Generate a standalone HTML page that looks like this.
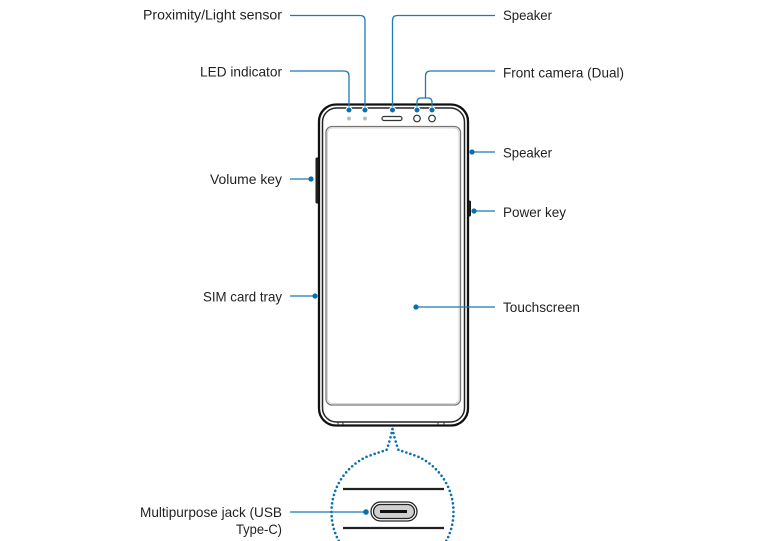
<!DOCTYPE html>
<html><head><meta charset="utf-8"><style>
html,body{margin:0;padding:0;background:#fff;}
svg{display:block;}
text{font-family:"Liberation Sans",sans-serif;font-size:14px;fill:#231f20;}
</style></head><body>
<svg width="783" height="541" viewBox="0 0 783 541" xmlns="http://www.w3.org/2000/svg">
<!-- phone body -->
<rect x="316" y="158" width="3.5" height="45" rx="1" fill="#222" stroke="#1a1a1a" stroke-width="1"/>
<rect x="467" y="201" width="3.5" height="15" rx="1" fill="#222" stroke="#1a1a1a" stroke-width="1"/>
<rect x="319" y="104.5" width="149" height="321" rx="17" fill="#fff" stroke="#111" stroke-width="2.3"/>
<rect x="322.5" y="108" width="142" height="314" rx="14" fill="none" stroke="#222" stroke-width="1.5"/>
<rect x="326" y="126.5" width="134.5" height="278.5" rx="6" fill="none" stroke="#777" stroke-width="1.3"/>
<rect x="327.5" y="128" width="131.5" height="275.5" rx="5" fill="none" stroke="#ccc" stroke-width="0.8"/>
<!-- bottom ticks -->
<line x1="338" y1="422" x2="338" y2="425" stroke="#333" stroke-width="1"/>
<line x1="343" y1="422" x2="343" y2="425" stroke="#333" stroke-width="1"/>
<line x1="438" y1="422" x2="438" y2="425" stroke="#333" stroke-width="1"/>
<line x1="444" y1="422" x2="444" y2="425" stroke="#333" stroke-width="1"/>
<!-- top features -->
<circle cx="349" cy="118.5" r="2" fill="#bbb"/>
<circle cx="365" cy="118.5" r="2" fill="#bbb"/>
<rect x="382" y="116.5" width="20" height="4" rx="2" fill="#fff" stroke="#333" stroke-width="1.2"/>
<circle cx="417" cy="118.5" r="3.3" fill="#fff" stroke="#333" stroke-width="1.2"/>
<circle cx="432" cy="118.5" r="3.3" fill="#fff" stroke="#333" stroke-width="1.2"/>

<!-- leaders -->
<g fill="none" stroke="#1b7bb8" stroke-width="1.3">
<path d="M290 15.5 H360 Q365 15.5 365 20.5 V110"/>
<path d="M495 15.5 H397.5 Q392.5 15.5 392.5 20.5 V110"/>
<path d="M290 71 H344 Q349 71 349 76 V110"/>
<path d="M495 71 H430.5 Q425.5 71 425.5 76 V98"/>
<path d="M417 110 V102 Q417 98 421 98 H428 Q432 98 432 102 V110"/>
<path d="M290 179 H311"/>
<path d="M290 296 H315"/>
<path d="M472 152 H495"/>
<path d="M474 211 H495"/>
<path d="M416 307 H495"/>
<path d="M290 512 H366"/>
</g>
<g fill="#0a6fad" stroke="#fff" stroke-width="1">
<circle cx="365" cy="110" r="3"/>
<circle cx="392.5" cy="110" r="3"/>
<circle cx="349" cy="110" r="3"/>
<circle cx="417" cy="110" r="3"/>
<circle cx="432" cy="110" r="3"/>
</g>
<g fill="#0a6fad">
<circle cx="311" cy="179" r="2.6"/>
<circle cx="315" cy="296" r="2.6"/>
<circle cx="472" cy="152" r="2.6"/>
<circle cx="474" cy="211" r="2.6"/>
<circle cx="416" cy="307" r="2.6"/>
<circle cx="366" cy="512" r="2.8"/>
</g>

<!-- dotted magnifier -->
<g fill="none" stroke="#0a6fad" stroke-width="2.6" stroke-linecap="round" stroke-dasharray="0 4.3">
<path d="M392.5 429 C391 436 388.5 445 386.5 450 C380 452 374 454 367 456.6 A61 61 0 0 0 338.8 541"/>
<path d="M392.5 429 C394 436 396.5 445 398.5 450 C405 452 411 454 418 456.6 A61 61 0 0 1 446.2 541"/>
</g>
<line x1="343" y1="489" x2="444" y2="489" stroke="#222" stroke-width="2.2"/>
<line x1="343" y1="528" x2="444" y2="528" stroke="#222" stroke-width="2.2"/>
<rect x="371" y="502" width="46" height="19" rx="9.5" fill="#fff" stroke="#222" stroke-width="1.3"/>
<rect x="373.5" y="504.5" width="41" height="14" rx="7" fill="#d0d0d0" stroke="#222" stroke-width="1.3"/>
<line x1="380" y1="511.5" x2="407" y2="511.5" stroke="#111" stroke-width="3"/>

<!-- labels -->
<text x="282" y="19.5" text-anchor="end" textLength="139" lengthAdjust="spacingAndGlyphs">Proximity/Light sensor</text>
<text x="282" y="76.5" text-anchor="end" textLength="82" lengthAdjust="spacingAndGlyphs">LED indicator</text>
<text x="503" y="20" textLength="49" lengthAdjust="spacingAndGlyphs">Speaker</text>
<text x="503" y="77.5" textLength="121" lengthAdjust="spacingAndGlyphs">Front camera (Dual)</text>
<text x="503" y="157.5" textLength="49" lengthAdjust="spacingAndGlyphs">Speaker</text>
<text x="282" y="184" text-anchor="end" textLength="72" lengthAdjust="spacingAndGlyphs">Volume key</text>
<text x="503" y="217" textLength="63" lengthAdjust="spacingAndGlyphs">Power key</text>
<text x="282" y="301.5" text-anchor="end" textLength="79" lengthAdjust="spacingAndGlyphs">SIM card tray</text>
<text x="503" y="312" textLength="77" lengthAdjust="spacingAndGlyphs">Touchscreen</text>
<text x="282" y="517" text-anchor="end" textLength="142" lengthAdjust="spacingAndGlyphs">Multipurpose jack (USB</text>
<text x="282" y="534" text-anchor="end" textLength="46" lengthAdjust="spacingAndGlyphs">Type-C)</text>
</svg>
</body></html>
